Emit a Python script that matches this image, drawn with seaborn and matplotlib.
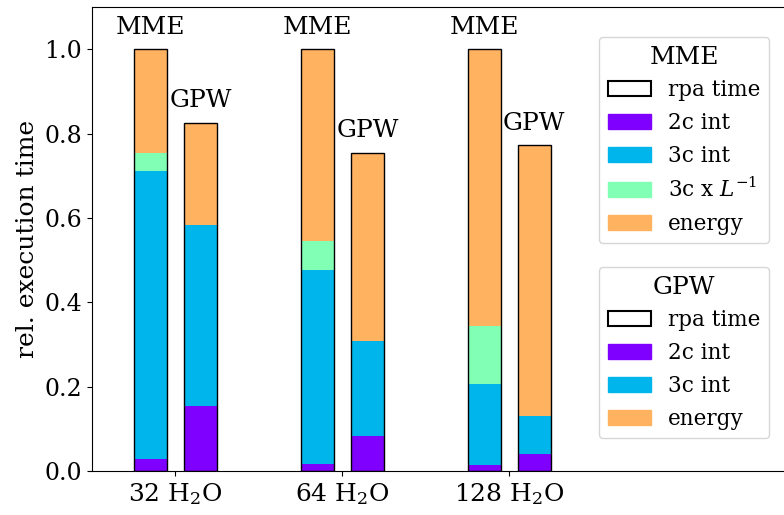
import numpy as np
import pandas as pd
import matplotlib
import matplotlib.pyplot as plt
from matplotlib.patches import Patch
import seaborn as sns

systems = ["32 H$_2$O", "64 H$_2$O", "128 H$_2$O"]

# relative timings (MME total = 1)
mme_2c = [0.028, 0.017, 0.014]
mme_3c = [0.683, 0.459, 0.192]
mme_3cL = [0.043, 0.069, 0.138]
mme_energy = [0.246, 0.455, 0.656]

gpw_2c = [0.155, 0.084, 0.040]
gpw_3c = [0.428, 0.224, 0.090]
gpw_energy = [0.243, 0.447, 0.642]

sns.set_style("ticks")
plt.rcParams["font.family"] = ["DejaVu Serif"]
plt.rcParams["mathtext.fontset"] = "dejavuserif"
plt.rcParams["font.size"] = 16
for k in ["text.color", "axes.labelcolor", "axes.edgecolor", "xtick.color", "ytick.color"]:
    plt.rcParams[k] = "black"

cmap = matplotlib.colormaps["rainbow"]
c_2c, c_3c, c_3cL, c_en = cmap(0.0), cmap(0.25), cmap(0.5), cmap(0.75)

rows = []
for i, s in enumerate(systems):
    rows.append(dict(system=s, method="MME", c2=mme_2c[i], c3=mme_3c[i], c3L=mme_3cL[i], en=mme_energy[i]))
    rows.append(dict(system=s, method="GPW", c2=gpw_2c[i], c3=gpw_3c[i], c3L=0.0, en=gpw_energy[i]))
df = pd.DataFrame(rows)
df["top_2c"] = df["c2"]
df["top_3c"] = df["top_2c"] + df["c3"]
df["top_3cL"] = df["top_3c"] + df["c3L"]
df["total"] = df["top_3cL"] + df["en"]

fig = plt.figure(figsize=(7.84, 5.15), dpi=100)
ax = fig.add_axes([92 / 784, 44 / 515, 701 / 784, 464 / 515])

order = ["MME", "GPW"]
for col, c in [("total", c_en), ("top_3cL", c_3cL), ("top_3c", c_3c), ("top_2c", c_2c)]:
    n0 = len(ax.patches)
    sns.barplot(data=df, x="system", y=col, hue="method", hue_order=order,
                palette={"MME": c, "GPW": c}, saturation=1, width=0.6, gap=1 / 3,
                legend=False, ax=ax)
    for p in ax.patches[n0:]:
        p.set_edgecolor("none")
        p.set_linewidth(0)

# outline = total rpa time
n0 = len(ax.patches)
sns.barplot(data=df, x="system", y="total", hue="method", hue_order=order,
            palette={"MME": "w", "GPW": "w"}, saturation=1, width=0.6, gap=1 / 3,
            legend=False, ax=ax)
for p in ax.patches[n0:]:
    p.set_facecolor("none")
    p.set_edgecolor("black")
    p.set_linewidth(1.0)
    xc = p.get_x() + p.get_width() / 2
    lab = "MME" if xc < round(xc) else "GPW"
    ax.text(xc, p.get_height() + 0.025, lab, ha="center", va="bottom", fontsize=18)

ax.set_xlim(-0.5, 3.7)
ax.set_ylim(0, 1.1)
ax.set_xlabel("")
ax.set_ylabel("rel. execution time", fontsize=18)
ax.spines["right"].set_visible(False)
ax.tick_params(axis="x", labelsize=18)
ax.tick_params(axis="y", labelsize=17)

outline = Patch(facecolor="white", edgecolor="black", linewidth=1.5)
h_mme = [outline, Patch(color=c_2c), Patch(color=c_3c), Patch(color=c_3cL), Patch(color=c_en)]
l_mme = ["rpa time", "2c int", "3c int", "3c x $L^{-1}$", "energy"]
h_gpw = [outline, Patch(color=c_2c), Patch(color=c_3c), Patch(color=c_en)]
l_gpw = ["rpa time", "2c int", "3c int", "energy"]

leg1 = ax.legend(h_mme, l_mme, title="MME", loc="upper right",
                 bbox_to_anchor=(769 / 784, 1 - 37 / 515), bbox_transform=fig.transFigure,
                 borderaxespad=0, fontsize=15.5, title_fontsize=18)
ax.add_artist(leg1)
ax.legend(h_gpw, l_gpw, title="GPW", loc="upper right",
          bbox_to_anchor=(769 / 784, 1 - 267 / 515), bbox_transform=fig.transFigure,
          borderaxespad=0, fontsize=15.5, title_fontsize=18)

fig.savefig("out.png", dpi=100)
